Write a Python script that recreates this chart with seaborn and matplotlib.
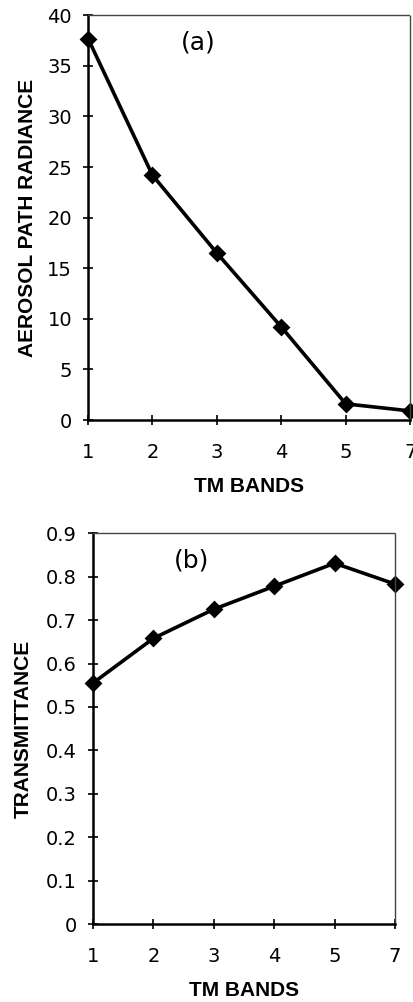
import numpy as np
import pandas as pd
import matplotlib
matplotlib.use("Agg")
import matplotlib.pyplot as plt
import seaborn as sns

# TM bands and values
bands = ["1", "2", "3", "4", "5", "7"]
path_radiance = [37.7, 24.2, 16.5, 9.2, 1.6, 0.9]
transmittance = [0.555, 0.658, 0.725, 0.778, 0.831, 0.783]

sns.set_theme(style="white")
plt.rcParams['font.family'] = ['Liberation Sans', 'DejaVu Sans']
plt.rcParams['text.color'] = 'black'
plt.rcParams['axes.labelcolor'] = 'black'


def style_axes(ax, ylabel, ylim, yticks, label_x):
    ax.set_xlim(0, len(bands) - 1)
    ax.set_ylim(*ylim)
    ax.set_yticks(yticks)
    ax.set_yticklabels([("%g" % t) for t in yticks], fontsize=14, family=["DejaVu Sans"])
    ax.set_xticks(range(len(bands)))
    ax.set_xticklabels(bands, fontsize=14, family=["DejaVu Sans"])
    ax.tick_params(axis="both", direction="inout", length=7, width=1.2,
                   color="black", labelcolor="black", bottom=True, left=True)
    ax.tick_params(axis="x", pad=13)
    ax.tick_params(axis="y", pad=8)
    for s in ["left", "bottom"]:
        ax.spines[s].set_visible(True)
        ax.spines[s].set_color("black")
        ax.spines[s].set_linewidth(1.8)
    for s in ["top", "right"]:
        ax.spines[s].set_visible(True)
        ax.spines[s].set_color("#444444")
        ax.spines[s].set_linewidth(1.0)
        ax.spines[s].set_linestyle((0, (1, 1)))
    ax.set_xlabel("TM BANDS", fontsize=15, fontweight="bold", labelpad=11)
    ax.set_ylabel(ylabel, fontsize=15, fontweight="bold")
    ax.yaxis.set_label_coords(label_x, 0.5)


fig = plt.figure(figsize=(4.14, 10.02), dpi=100)
ax1 = fig.add_axes([0.2126, 0.5808, 0.778, 0.404])
ax2 = fig.add_axes([0.2246, 0.0778, 0.7295, 0.390])

df_a = pd.DataFrame({"band": bands, "value": path_radiance})
df_b = pd.DataFrame({"band": bands, "value": transmittance})

sns.pointplot(data=df_a, x="band", y="value", color="black", markers="D",
              markersize=7, linewidth=2.6, ax=ax1, clip_on=False)
sns.pointplot(data=df_b, x="band", y="value", color="black", markers="D",
              markersize=7, linewidth=2.6, ax=ax2, clip_on=False)

style_axes(ax1, "AEROSOL PATH RADIANCE", (0, 40), [0, 5, 10, 15, 20, 25, 30, 35, 40], -0.158)
style_axes(ax2, "TRANSMITTANCE", (0, 0.9), [0, 0.1, 0.2, 0.3, 0.4, 0.5, 0.6, 0.7, 0.8, 0.9], -0.199)

ax1.text(0.342, 0.933, "(a)", transform=ax1.transAxes, fontsize=18,
         family=["DejaVu Sans"], ha="center", va="center", color="black")
ax2.text(0.328, 0.931, "(b)", transform=ax2.transAxes, fontsize=18,
         family=["DejaVu Sans"], ha="center", va="center", color="black")

fig.savefig("out.png", dpi=100)
